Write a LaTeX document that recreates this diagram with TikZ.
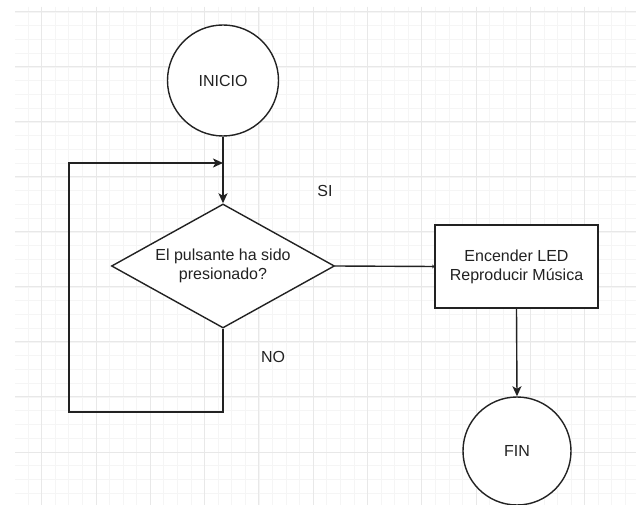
\documentclass[tikz,border=0pt]{standalone}
\usepackage{fontspec}
\setmainfont{Liberation Sans}
\usetikzlibrary{arrows.meta,shapes.geometric}
\definecolor{gridminor}{HTML}{F5F5F5}
\definecolor{gridmajor}{HTML}{E8E8E8}
\definecolor{ink}{HTML}{222222}
\tikzset{
  shapebox/.style={draw=ink, line width=1.4pt, fill=white, inner sep=0pt, align=center, text=ink,
    font=\fontsize{16}{19}\selectfont},
  arr/.style={draw=ink, line width=1.4pt, -{Stealth[length=10pt,width=9pt,inset=2.5pt]}},
  tinyarr/.style={draw=ink, line width=1.4pt, -{Stealth[length=2pt,width=4pt]}},
  lbl/.style={text=ink, font=\fontsize{16}{19}\selectfont, inner sep=0pt}
}
\begin{document}
\begin{tikzpicture}[x=1pt,y=-1pt]
\useasboundingbox (0,0) rectangle (638,505);
\fill[white] (0,0) rectangle (638,505);
% grid
\begin{scope}
\clip (15,7) rectangle (636,505);
\foreach \i in {0,...,46} {
  \draw[gridminor, line width=0.8pt] ({14.55+\i*13.575},7) -- ({14.55+\i*13.575},505);
}
\foreach \i in {-1,...,37} {
  \draw[gridminor, line width=0.8pt] (15,{12+\i*13.75}) -- (636,{12+\i*13.75});
}
\foreach \i in {0,...,11} {
  \draw[gridmajor, line width=1pt] ({41.7+\i*54.3},7) -- ({41.7+\i*54.3},505);
}
\foreach \i in {0,...,9} {
  \draw[gridmajor, line width=1pt] (15,{12+\i*55}) -- (636,{12+\i*55});
}
\end{scope}
% nodes
\node[shapebox, circle, minimum size=111pt] (ini) at (223,80.5) {INICIO};
\node[shapebox, diamond, aspect=1.798, minimum width=223pt, minimum height=124pt] (dia) at (223,266) {El pulsante ha sido\\presionado?};
\node[shapebox, rectangle, minimum width=163pt, minimum height=83pt] (act) at (516.5,266.5) {Encender LED\\Reproducir Música};
\node[shapebox, circle, minimum size=108pt] (fin) at (517,451) {FIN};
\node[lbl] (si) at (325,191) {SI};
\node[lbl] (no) at (273,357) {NO};
% connectors
\coordinate (lp) at (223,163);
\coordinate (lc) at (69,412);
\draw[arr] (ini) -- (dia);
\draw[arr] (dia.south) |- (lc) |- (lp);
\draw[tinyarr] (dia.east) -- (act.west);
\draw[arr] (act.south) -- (fin.north);
\end{tikzpicture}
\end{document}
